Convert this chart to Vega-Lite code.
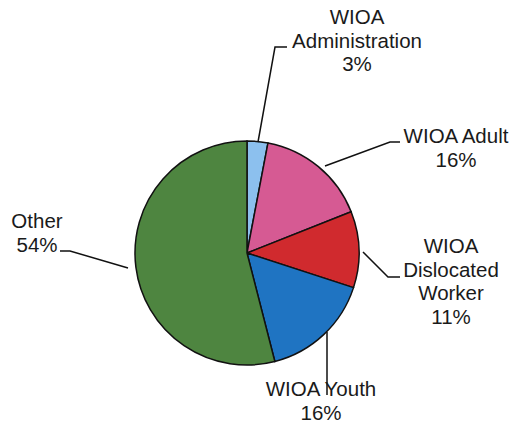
{
  "$schema": "https://vega.github.io/schema/vega-lite/v6.json",
  "width": 517,
  "height": 428,
  "padding": 0,
  "autosize": {"type": "fit", "contains": "padding"},
  "background": "white",
  "config": {"view": {"stroke": null}},
  "datasets": {
    "slices": [
      {"category": "WIOA Administration", "idx": 1, "pct": 3},
      {"category": "WIOA Adult", "idx": 2, "pct": 16},
      {"category": "WIOA Dislocated Worker", "idx": 3, "pct": 11},
      {"category": "WIOA Youth", "idx": 4, "pct": 16},
      {"category": "Other", "idx": 5, "pct": 54}
    ],
    "labels": [
      {"text": "WIOA\nAdministration\n3%", "lx": 110, "ly": 235},
      {"text": "WIOA Adult\n16%", "lx": 209, "ly": 116},
      {"text": "WIOA\nDislocated\nWorker\n11%", "lx": 204, "ly": 6},
      {"text": "WIOA Youth\n16%", "lx": 74, "ly": -137},
      {"text": "Other\n54%", "lx": -210, "ly": 31}
    ],
    "leaders": [
      {"g": "adm", "s": 1, "lx": 11, "ly": 111},
      {"g": "adm", "s": 2, "lx": 28, "ly": 206},
      {"g": "adm", "s": 3, "lx": 40, "ly": 206},
      {"g": "adu", "s": 1, "lx": 78, "ly": 87},
      {"g": "adu", "s": 2, "lx": 143, "ly": 111},
      {"g": "adu", "s": 3, "lx": 153, "ly": 111},
      {"g": "dis", "s": 1, "lx": 116, "ly": 1},
      {"g": "dis", "s": 2, "lx": 141, "ly": -24},
      {"g": "dis", "s": 3, "lx": 153, "ly": -24},
      {"g": "you", "s": 1, "lx": 80, "ly": -79},
      {"g": "you", "s": 2, "lx": 80, "ly": -142},
      {"g": "oth", "s": 1, "lx": -187, "ly": 2},
      {"g": "oth", "s": 2, "lx": -177, "ly": 2},
      {"g": "oth", "s": 3, "lx": -119, "ly": -15}
    ]
  },
  "layer": [
    {
      "data": {"name": "slices"},
      "mark": {"type": "arc", "outerRadius": 112, "stroke": "#111", "strokeWidth": 1.5},
      "encoding": {
        "x": {"datum": 0, "type": "quantitative", "scale": {"domain": [-247, 270], "nice": false, "zero": false}, "axis": null},
        "y": {"datum": 0, "type": "quantitative", "scale": {"domain": [-175, 253], "nice": false, "zero": false}, "axis": null},
        "theta": {"field": "pct", "type": "quantitative", "stack": true},
        "order": {"field": "idx", "type": "quantitative"},
        "color": {
          "field": "category",
          "type": "nominal",
          "legend": null,
          "scale": {
            "domain": ["WIOA Administration", "WIOA Adult", "WIOA Dislocated Worker", "WIOA Youth", "Other"],
            "range": ["#8cc0ee", "#d65a93", "#d02a2e", "#1f74c2", "#4e8540"]
          }
        }
      }
    },
    {
      "data": {"name": "leaders"},
      "mark": {"type": "line", "stroke": "#111", "strokeWidth": 1.5},
      "encoding": {
        "x": {"field": "lx", "type": "quantitative", "axis": null},
        "y": {"field": "ly", "type": "quantitative", "axis": null},
        "detail": {"field": "g"},
        "order": {"field": "s", "type": "quantitative"}
      }
    },
    {
      "data": {"name": "labels"},
      "mark": {"type": "text", "font": "Liberation Sans", "fontSize": 20.5, "lineBreak": "\n", "lineHeight": 23.5, "align": "center", "baseline": "middle", "color": "#1a1a1a"},
      "encoding": {
        "x": {"field": "lx", "type": "quantitative", "axis": null},
        "y": {"field": "ly", "type": "quantitative", "axis": null},
        "text": {"field": "text"}
      }
    }
  ]
}
